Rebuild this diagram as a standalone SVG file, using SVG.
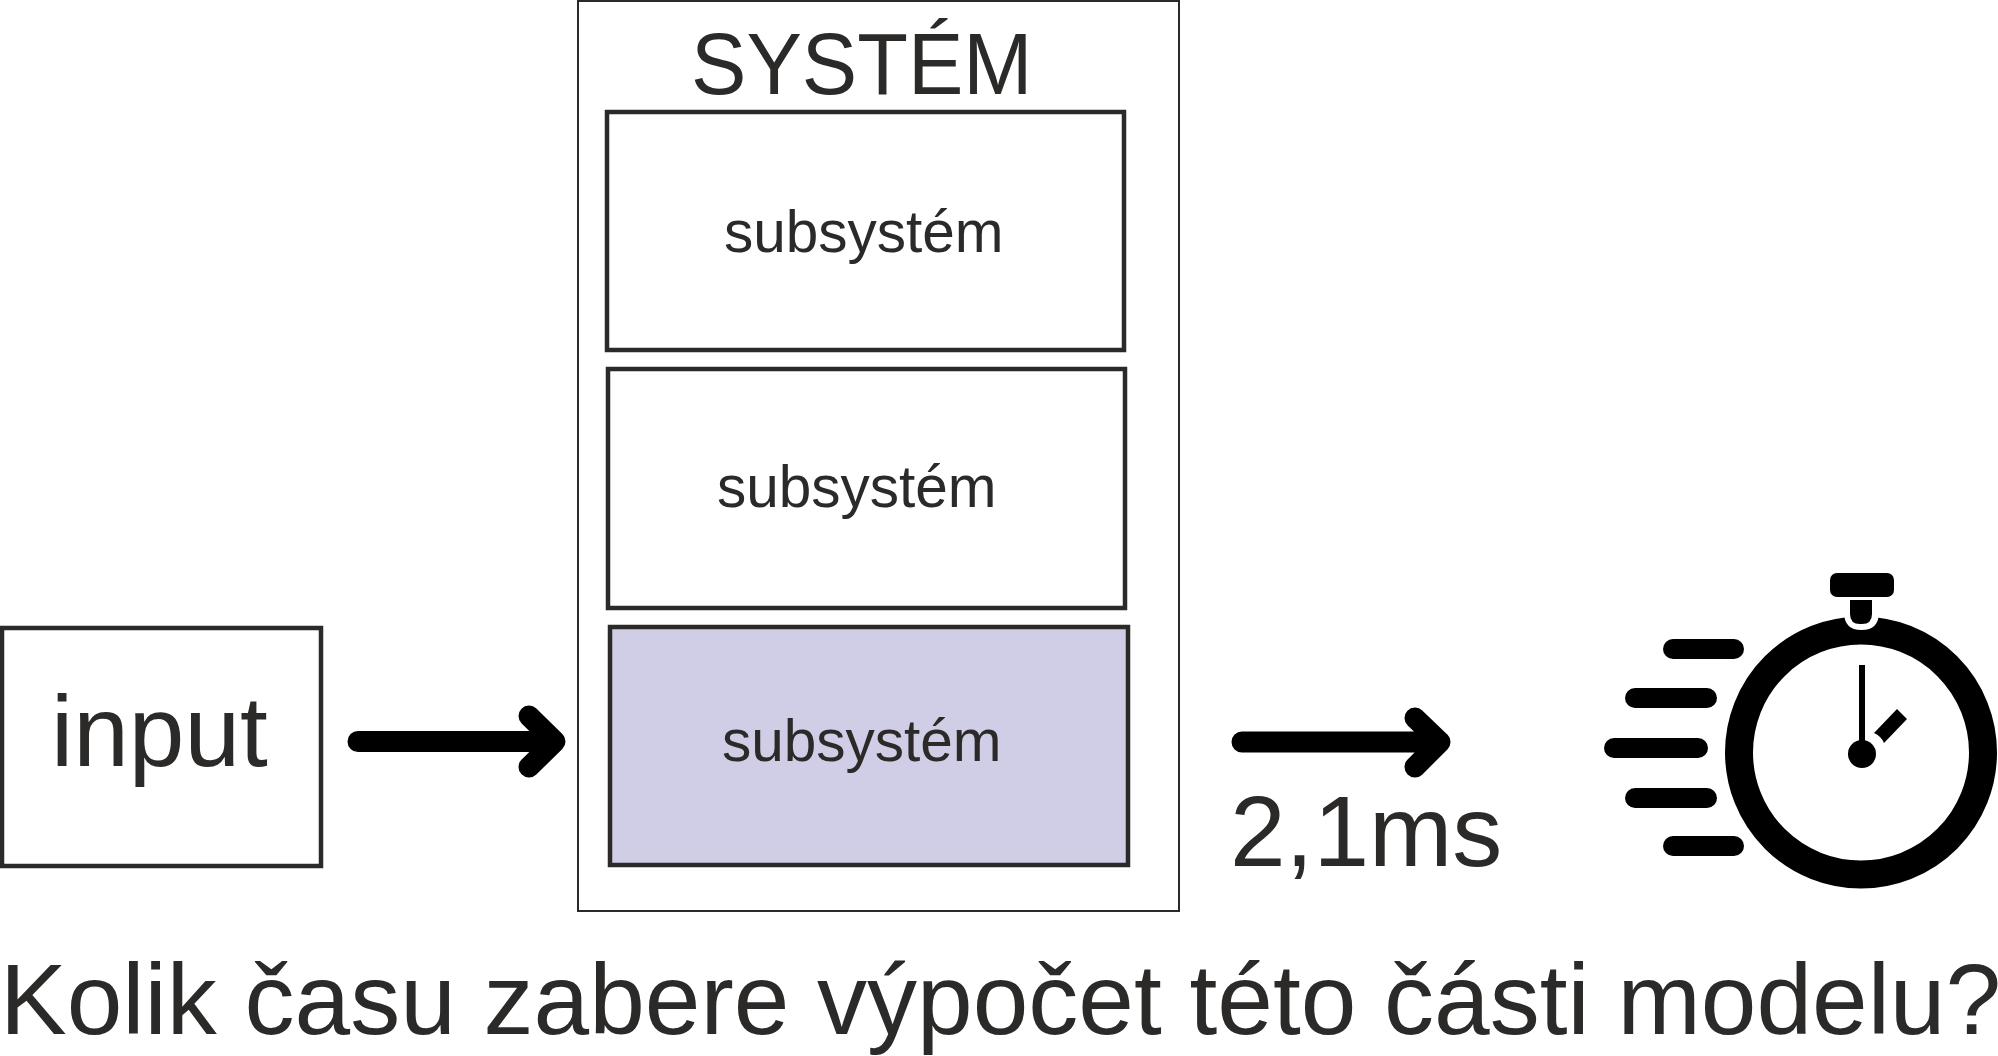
<svg xmlns="http://www.w3.org/2000/svg" width="1998" height="1056" viewBox="0 0 1998 1056">
<style>
text{font-family:"Liberation Sans",Arial,sans-serif;fill:#2b2a29}
.box{fill:#fff;stroke:#2b2a29;stroke-width:4.500}
.sub{font-size:58.500px}
.big{font-size:100px}
.arrow{fill:none;stroke:#000;stroke-width:21;stroke-linecap:round;stroke-linejoin:round}
.bar{fill:#000}
</style>
<rect width="1998" height="1056" fill="#fff"/>
<g id="system">
<rect x="578" y="1" width="601" height="910" fill="#fff" stroke="#2b2a29" stroke-width="2"/>
<text transform="translate(691 94) scale(.955 1)" font-size="87">SYSTÉM</text>
</g>
<g id="subsystem-1">
<rect class="box" x="607" y="112" width="517" height="238"/>
<text class="sub" x="724" y="252">subsystém</text>
</g>
<g id="subsystem-2">
<rect class="box" x="608" y="369" width="517" height="239"/>
<text class="sub" x="717" y="507">subsystém</text>
</g>
<g id="subsystem-3">
<rect class="box" x="610" y="627" width="518" height="238" style="fill:#d0cde6"/>
<text class="sub" x="722" y="761">subsystém</text>
</g>
<g id="input">
<rect class="box" x="2" y="628" width="319" height="238"/>
<text class="big" x="51" y="766">input</text>
</g>
<g id="connectors">
<path class="arrow" d="M358 741.500H554M529 716L555 741.500L529 767"/>
<path class="arrow" d="M1242 742H1440M1415 718L1440 742L1415 767"/>
</g>
<text id="time" class="big" x="1230" y="866">2,1ms</text>
<g id="stopwatch">
<circle cx="1861" cy="752.500" r="122" fill="none" stroke="#000" stroke-width="28"/>
<path d="M1844 612Q1844 630 1861.500 630Q1879 630 1879 612Z" fill="#fff"/>
<rect class="bar" x="1830" y="573" width="64" height="24" rx="7"/>
<path class="bar" d="M1850 600H1872V614Q1872 624 1862 624H1860Q1850 624 1850 614Z"/>
<rect class="bar" x="1663" y="639" width="81" height="20" rx="10"/>
<rect class="bar" x="1625" y="688" width="92" height="20" rx="10"/>
<rect class="bar" x="1604" y="738" width="104" height="20" rx="10"/>
<rect class="bar" x="1625" y="788" width="92" height="20" rx="10"/>
<rect class="bar" x="1663" y="836" width="81" height="20" rx="10"/>
<rect class="bar" x="1859" y="665" width="6" height="85"/>
<circle class="bar" cx="1862" cy="754" r="14"/>
<path class="bar" d="M1874 733L1897 709L1907 719L1884 743Q1881 736 1874 733Z"/>
</g>
<text id="question" x="0" y="1034" font-size="100">Kolik času zabere výpočet této části modelu?</text>
</svg>
